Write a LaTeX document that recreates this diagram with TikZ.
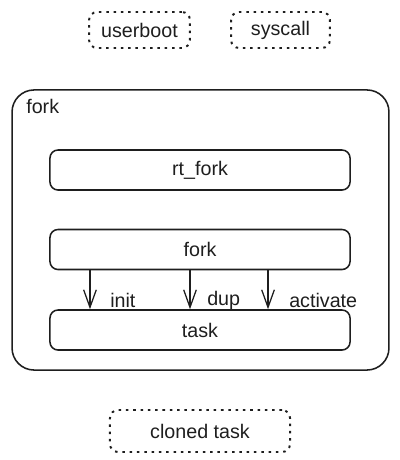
\documentclass[tikz,border=0pt]{standalone}
\usepackage{fontspec}
\setmainfont{Liberation Sans}
\usepackage{tikz}
\usetikzlibrary{arrows.meta}

\definecolor{ink}{HTML}{1E1E1E}
\tikzset{
  box/.style={draw=ink,line width=1.1pt,rounded corners=0.2cm,minimum width=7.5cm,minimum height=1cm,inner sep=0pt},
  dotbox/.style={draw=ink,line width=1.4pt,dash pattern=on 1.8pt off 3.4pt,rounded corners=0.2cm,minimum height=0.9cm,inner sep=0pt},
  lbl/.style={text=ink,font=\fontsize{14}{16}\selectfont},
  call/.style={draw=ink,line width=0.9pt,-{Straight Barb[length=12.5pt,width=9pt]}}
}

\begin{document}
\begin{tikzpicture}[x=0.025cm,y=-0.025cm]
\useasboundingbox (0,0) rectangle (400,460);
% side entries
\node[dotbox,lbl,minimum width=2.52cm] (userboot) at (139.5,30) {userboot};
\node[dotbox,lbl,minimum width=2.47cm] (syscall) at (280.5,30) {syscall};
% container
\node[draw=ink,line width=1.1pt,rounded corners=0.55cm,minimum width=9.42cm,minimum height=7cm,inner sep=0pt] (frame) at (200.5,230) {};
\node[lbl,anchor=west,inner sep=0pt] (framelbl) at (26,106) {fork};
\node[box,lbl] (rtfork) at (200,170) {rt\_fork};
\node[box,lbl] (fork) at (200,249.5) {fork};
\node[box,lbl] (task) at (200,330) {task};
% calls
\draw[call] ([xshift=-2.75cm]fork.south) -- ([xshift=-2.75cm]task.north);
\draw[call] ([xshift=-0.25cm]fork.south) -- ([xshift=-0.25cm]task.north);
\draw[call] ([xshift=1.7cm]fork.south) -- ([xshift=1.7cm]task.north);
\node[lbl,anchor=west,inner sep=0pt] (init) at (110,300) {init};
\node[lbl,anchor=west,inner sep=0pt] (dup) at (207,300) {dup};
\node[lbl,anchor=west,inner sep=0pt] (activate) at (289,300) {activate};
% result
\node[dotbox,lbl,minimum width=4.5cm,minimum height=1.05cm] (cloned) at (200,431) {cloned task};
\end{tikzpicture}
\end{document}
